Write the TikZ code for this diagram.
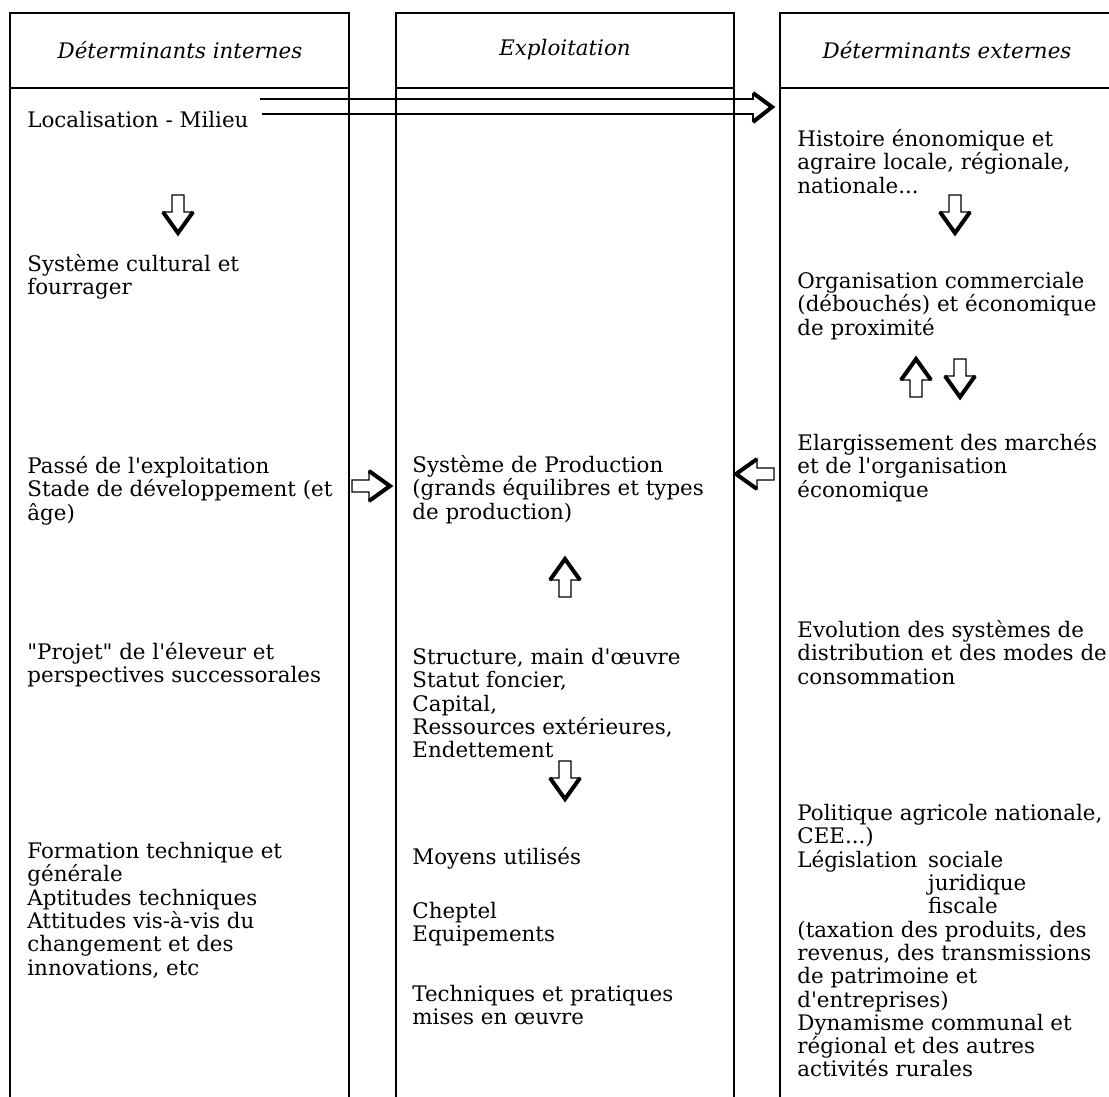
\documentclass[tikz,border=0pt]{standalone}
\usepackage{fontspec}
\setmainfont{DejaVu Serif}
\newcommand{\ap}{\textquotesingle}
\tikzset{
  col/.style={line width=.6pt},
  sep/.style={line width=1pt},
  txt/.style={anchor=north west,inner sep=0pt,align=left,font=\fontsize{10.7}{11.65}\selectfont},
  head/.style={inner sep=0pt,font=\fontsize{10.7}{11.65}\selectfont\itshape},
  harrow/.pic={
    \draw[line width=.6pt,fill=white] (-19,-6) -- (-2,-6) -- (-2,-15) -- (19,0) -- (-2,15) -- (-2,6) -- (-19,6) -- cycle;
    \draw[line width=2pt,line join=miter] (-2,-15) -- (19,0) -- (-2,15);
  }
}
\begin{document}
\begin{tikzpicture}[x=.5pt,y=-.5pt]
\useasboundingbox (0,0) rectangle (1109,1097);
% colonnes
\draw[col] (10,1097) -- (10,13) -- (349,13) -- (349,1097);
\draw[col] (396,1097) -- (396,13) -- (734,13) -- (734,1097);
\draw[col] (1109,13) -- (780,13) -- (780,1097);
\draw[sep] (10,88) -- (349,88) (396,88) -- (734,88) (780,88) -- (1109,88);
\node[head] (hint) at (180,50) {Déterminants internes};
\node[head] (hmid) at (565,50) {Exploitation};
\node[head] (hext) at (947,50) {Déterminants externes};
% determinants internes
\node[txt] (loc) at (27,111) {Localisation - Milieu};
\node[txt] (cult) at (27,254) {Système cultural et\\fourrager};
\node[txt] (passe) at (27,456) {Passé de l\ap exploitation\\Stade de développement (et\\âge)};
\node[txt] (projet) at (27,642) {\textquotedbl Projet\textquotedbl{} de l\ap éleveur et\\perspectives successorales};
\node[txt] (form) at (27,842) {Formation technique et\\générale\\Aptitudes techniques\\Attitudes vis-à-vis du\\changement et des\\innovations, etc};
% exploitation
\node[txt] (sysp) at (412,455) {Système de Production\\(grands équilibres et types\\de production)};
\node[txt] (struct) at (412,648) {Structure, main d\ap œuvre\\Statut foncier,\\Capital,\\Ressources extérieures,\\Endettement};
\node[txt] (moyens) at (412,847) {Moyens utilisés};
\node[txt] (chep) at (412,902) {Cheptel\\Equipements};
\node[txt] (techn) at (412,985) {Techniques et pratiques\\mises en œuvre};
% determinants externes
\node[txt] (hist) at (797,129) {Histoire énonomique et\\agraire locale, régionale,\\nationale...};
\node[txt] (orga) at (797,272) {Organisation commerciale\\(débouchés) et économique\\de proximité};
\node[txt] (elarg) at (797,433) {Elargissement des marchés\\et de l\ap organisation\\économique};
\node[txt] (evol) at (797,620) {Evolution des systèmes de\\distribution et des modes de\\consommation};
\node[txt] (polit) at (797,804) {Politique agricole nationale,\\CEE...)\\Législation\enspace sociale\\\hphantom{Législation\enspace}juridique\\\hphantom{Législation\enspace}fiscale\\(taxation des produits, des\\revenus, des transmissions\\de patrimoine et\\d\ap entreprises)\\Dynamisme communal et\\régional et des autres\\activités rurales};
% fleches
\coordinate (a1) at (260,99);
\coordinate (a2) at (262,114);
\coordinate (tip) at (772,107);
\draw[line width=.6pt] (a1) -- (753,99) -- (753,93) (a2) -- (753,114) -- (753,122);
\draw[line width=2pt,line join=miter] (753,93) -- (tip) -- (753,122);
\pic[rotate=-90] at (178,214) {harrow};
\pic at (371,486) {harrow};
\pic[rotate=180] at (755,474) {harrow};
\pic[rotate=90] at (565,578) {harrow};
\pic[rotate=-90] at (565,780) {harrow};
\pic[rotate=-90] at (955,214) {harrow};
\pic[rotate=90] at (916,378) {harrow};
\pic[rotate=-90] at (960,378) {harrow};
\end{tikzpicture}
\end{document}
